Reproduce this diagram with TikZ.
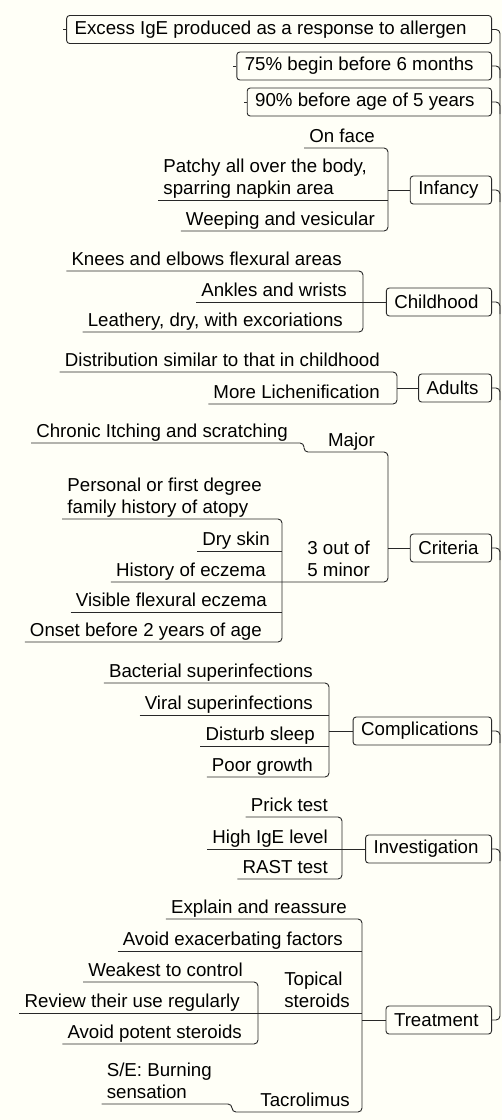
\documentclass[tikz,border=0pt]{standalone}
\usepackage{fontspec}
\setmainfont{Liberation Sans}
\usepackage{xcolor}
\usetikzlibrary{positioning}

\definecolor{paper}{RGB}{255,255,247}
\definecolor{ink}{RGB}{40,40,40}
\newcommand{\lstrut}{\rule[-4pt]{0pt}{14pt}}

\tikzset{
  link/.style={draw=ink, line width=0.9pt, rounded corners=4pt},
  topic/.style={draw=ink, line width=0.9pt, rounded corners=3pt, anchor=east,
    minimum height=28pt, inner xsep=8pt, inner ysep=0pt,
    font=\fontsize{18.7}{22}\selectfont, execute at end node={\hspace{5pt}}},
  leaf/.style={anchor=south east, inner xsep=5pt, inner ysep=1pt, align=left,
    font=\fontsize{18.7}{22}\selectfont, execute at end node={\lstrut}}
}

\begin{document}
\begin{tikzpicture}[x=1pt, y=-1pt]
\fill[paper] (0,0) rectangle (502,1120);
\useasboundingbox (0,0) rectangle (502,1120);

% main topics
\node[topic] (excess) at (492,29.5) {Excess IgE produced as a response to allergen\kern12pt};
\node[topic] (begin) at (492,66) {75\% begin before 6 months\kern5pt};
\node[topic] (ninety) at (492,102) {90\% before age of 5 years\kern4pt};
\node[topic] (infancy) at (492,190) {Infancy};
\node[topic] (childhood) at (492,302) {Childhood};
\node[topic] (adults) at (492,388) {Adults};
\node[topic] (criteria) at (492,548) {Criteria};
\node[topic] (compl) at (492,731) {Complications};
\node[topic] (invest) at (492,849) {Investigation};
\node[topic] (treat) at (492,1020) {Treatment};

% trunk
\coordinate (trunk) at (500,1020);
\draw[link] (excess.east) -| (trunk) -- (treat.east);
\foreach \t in {begin,ninety,infancy,childhood,adults,criteria,compl,invest}
  \draw[link] (\t.east) -| ++(8,12);
\foreach \t in {excess,begin,ninety}
  \draw[link] (\t.west) -- ++(-3,0);

% infancy
\coordinate (jInf) at (388,190);
\node[leaf] (onface) at (380,148) {On face};
\node[leaf] (patchy) at (372,200) {Patchy all over the body,\\sparring napkin area};
\node[leaf] (weeping) at (380,231) {Weeping and vesicular};
\draw[link] (onface.south west) -| (jInf) |- (weeping.south west);
\draw[link] (patchy.south west) -- (patchy.south west -| jInf);
\draw[link] (jInf) -- (infancy.west);

% childhood
\coordinate (jCh) at (363,302);
\node[leaf] (knees) at (347,271) {Knees and elbows flexural areas};
\node[leaf] (ankles) at (352,302) {Ankles and wrists};
\node[leaf] (leathery) at (348,332) {Leathery, dry, with excoriations};
\draw[link] (knees.south west) -| (jCh) |- (leathery.south west);
\draw[link] (ankles.south west) -- (ankles.south west -| jCh);
\draw[link] (jCh) -- (childhood.west);

% adults
\coordinate (jAd) at (397,388);
\node[leaf] (distrib) at (385,372) {Distribution similar to that in childhood};
\node[leaf] (lichen) at (385,404) {More Lichenification};
\draw[link] (distrib.south west) -| (jAd) |- (lichen.south west);
\draw[link] (jAd) -- (adults.west);

% criteria
\coordinate (jCrit) at (388,548);
\coordinate (cMaj) at (388,452);
\coordinate (cMin) at (388,582);
\coordinate (jMaj) at (304,452);
\coordinate (jMin) at (282,582);
\node[leaf] (major) at (380,452) {Major};
\node[leaf] (chronic) at (293,443) {Chronic Itching and scratching};
\node[leaf] (minor) at (375,582) {3 out of\\5 minor};
\node[leaf] (personal) at (267,519) {Personal or first degree\\family history of atopy};
\node[leaf] (dryskin) at (275,551) {Dry skin};
\node[leaf] (history) at (271,582) {History of eczema};
\node[leaf] (visible) at (272,612) {Visible flexural eczema};
\node[leaf] (onset) at (267,642) {Onset before 2 years of age};
\draw[link] (chronic.south west) -| (jMaj) -- (cMaj) -- (cMin) -- (history.south west);
\draw[link] (personal.south west) -| (jMin) |- (onset.south west);
\draw[link] (dryskin.south west) -- (dryskin.south west -| jMin);
\draw[link] (visible.south west) -- (visible.south west -| jMin);
\draw[link] (jCrit) -- (criteria.west);

% complications
\coordinate (jComp) at (329,731);
\node[leaf] (bacterial) at (318,683) {Bacterial superinfections};
\node[leaf] (viral) at (318,715) {Viral superinfections};
\node[leaf] (sleep) at (320,746) {Disturb sleep};
\node[leaf] (growth) at (318,777) {Poor growth};
\draw[link] (bacterial.south west) -| (jComp) |- (growth.south west);
\draw[link] (viral.south west) -- (viral.south west -| jComp);
\draw[link] (sleep.south west) -- (sleep.south west -| jComp);
\draw[link] (jComp) -- (compl.west);

% investigation
\coordinate (jInv) at (342,849);
\node[leaf] (prick) at (333,817) {Prick test};
\node[leaf] (highige) at (333,849) {High IgE level};
\node[leaf] (rast) at (333,879) {RAST test};
\draw[link] (prick.south west) -| (jInv) |- (rast.south west);
\draw[link] (highige.south west) -- (highige.south west -| jInv);
\draw[link] (jInv) -- (invest.west);

% treatment
\coordinate (jTreat) at (362,1020);
\coordinate (cTreat) at (362,1112);
\coordinate (jTop) at (258,1013);
\coordinate (jTac) at (232,1112);
\node[leaf] (explain) at (352,919) {Explain and reassure};
\node[leaf] (avoidex) at (348,951) {Avoid exacerbating factors};
\node[leaf] (topical) at (355,1013) {Topical\\steroids};
\node[leaf] (weakest) at (248,982) {Weakest to control};
\node[leaf] (review) at (245,1013) {Review their use regularly};
\node[leaf] (potent) at (247,1044) {Avoid potent steroids};
\node[leaf] (tacro) at (355,1112) {Tacrolimus};
\node[leaf] (burning) at (217,1104) {S/E: Burning\\sensation};
\draw[link] (explain.south west) -| (cTreat) -- (jTac) |- (burning.south west);
\draw[link] (avoidex.south west) -- (avoidex.south west -| cTreat);
\draw[link] (review.south west) -- (review.south west -| cTreat);
\draw[link] (weakest.south west) -| (jTop) |- (potent.south west);
\draw[link] (jTreat) -- (treat.west);
\end{tikzpicture}
\end{document}
